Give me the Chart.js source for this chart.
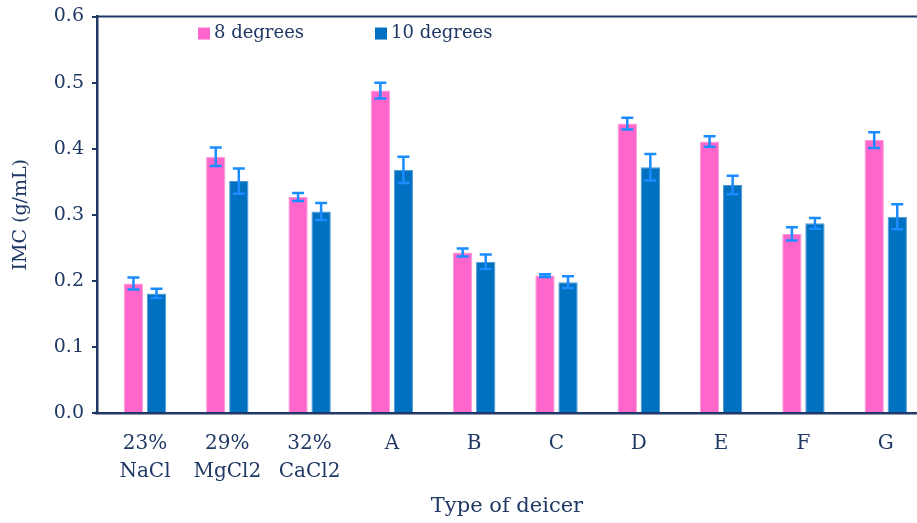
<!DOCTYPE html>
<html>
<head>
<meta charset="utf-8">
<script src="https://cdn.jsdelivr.net/npm/chart.js@4"></script>
<style>
  html, body { margin: 0; padding: 0; background: #fff; }
  #wrap { width: 917px; height: 523px; position: relative; overflow: hidden; }
</style>
</head>
<body>
<div id="wrap"><canvas id="chart"></canvas></div>
<script>
// Data
const categories = [['23%', 'NaCl'], ['29%', 'MgCl2'], ['32%', 'CaCl2'], 'A', 'B', 'C', 'D', 'E', 'F', 'G'];
const seriesNames = ['8 degrees', '10 degrees'];
const imc8 = [0.196, 0.388, 0.327, 0.488, 0.243, 0.208, 0.438, 0.411, 0.271, 0.413];
const imc10 = [0.181, 0.351, 0.305, 0.368, 0.229, 0.198, 0.372, 0.345, 0.287, 0.297];
const err8 = [0.009, 0.014, 0.006, 0.012, 0.006, 0.002, 0.009, 0.008, 0.010, 0.012];
const err10 = [0.007, 0.019, 0.013, 0.020, 0.011, 0.009, 0.020, 0.014, 0.008, 0.019];

const navy = '#1f3864';
const serif = "'DejaVu Serif', 'Liberation Serif', serif";

// error bars, top frame line and in-plot legend
const extrasPlugin = {
  id: 'extras',
  afterDatasetsDraw(chart) {
    const ctx = chart.ctx;
    const y = chart.scales.y;
    ctx.save();
    ctx.strokeStyle = '#1a8cff';
    ctx.lineWidth = 2.5;
    chart.data.datasets.forEach((ds, di) => {
      const meta = chart.getDatasetMeta(di);
      meta.data.forEach((bar, i) => {
        const v = ds.data[i], e = ds.errors[i];
        const top = y.getPixelForValue(v + e), bot = y.getPixelForValue(v - e);
        const cap = 6;
        ctx.beginPath();
        ctx.moveTo(bar.x, top); ctx.lineTo(bar.x, bot);
        ctx.moveTo(bar.x - cap, top); ctx.lineTo(bar.x + cap, top);
        ctx.moveTo(bar.x - cap, bot); ctx.lineTo(bar.x + cap, bot);
        ctx.stroke();
      });
    });
    ctx.restore();
  },
  afterDraw(chart) {
    const ctx = chart.ctx;
    const a = chart.chartArea;
    ctx.save();
    ctx.strokeStyle = navy;
    ctx.lineWidth = 2;
    ctx.beginPath();
    ctx.moveTo(a.left, a.top); ctx.lineTo(a.right, a.top);
    ctx.stroke();
    ctx.lineWidth = 2.5;
    ctx.beginPath();
    ctx.moveTo(a.left - 3, a.bottom); ctx.lineTo(a.left, a.bottom);
    ctx.stroke();
    // legend
    const items = [
      { x: a.left + 101, color: '#ff66cc', text: seriesNames[0] },
      { x: a.left + 278, color: '#0070c0', text: seriesNames[1] }
    ];
    ctx.font = '18px ' + serif;
    ctx.textBaseline = 'middle';
    items.forEach(it => {
      ctx.fillStyle = it.color;
      ctx.fillRect(it.x, a.top + 11, 12, 12);
      ctx.fillStyle = navy;
      ctx.fillText(it.text, it.x + 16, a.top + 17);
    });
    ctx.restore();
  }
};

const cfg = {
  type: 'bar',
  data: {
    labels: categories,
    datasets: [
      { label: seriesNames[0], data: imc8, errors: err8, backgroundColor: '#ff66cc', borderColor: '#ff9ad8', borderWidth: 1 },
      { label: seriesNames[1], data: imc10, errors: err10, backgroundColor: '#0070c0', borderColor: '#4f9ad6', borderWidth: 1 }
    ]
  },
  options: {
    responsive: true,
    maintainAspectRatio: false,
    animation: false,
    datasets: { bar: { categoryPercentage: 0.56, barPercentage: 0.84 } },
    layout: { padding: { left: 6, right: 0, top: 0, bottom: 0 } },
    plugins: {
      legend: { display: false },
      tooltip: { enabled: false }
    },
    scales: {
      x: {
        grid: { display: false, drawTicks: false },
        border: { color: navy, width: 2.5 },
        ticks: { color: navy, font: { family: serif, size: 20, lineHeight: 1.4 }, padding: 17, maxRotation: 0 },
        title: { display: true, text: 'Type of deicer', color: navy, font: { family: serif, size: 21 }, padding: { top: 0, bottom: 4 } },
        afterFit: s => { s.height = 110; },
        // first group sits a bit right of the y axis, as in the figure
        afterBuildTicks: s => { s._startValue = -0.583; s._valueRange = 9.963; }
      },
      y: {
        min: 0, max: 0.6,
        grid: { drawOnChartArea: false, drawTicks: true, tickLength: 5, color: navy, lineWidth: 2 },
        border: { color: navy, width: 2.5 },
        ticks: { stepSize: 0.1, color: navy, font: { family: serif, size: 19, lineHeight: 0.9 }, padding: 8, callback: v => v.toFixed(1) },
        title: { display: true, text: 'IMC (g/mL)', color: navy, font: { family: serif, size: 19 }, padding: { top: 4, bottom: 4 } },
        afterFit: s => { s.width = 91; }
      }
    }
  },
  plugins: [extrasPlugin]
};

new Chart(document.getElementById('chart').getContext('2d'), cfg);
</script>
</body>
</html>
